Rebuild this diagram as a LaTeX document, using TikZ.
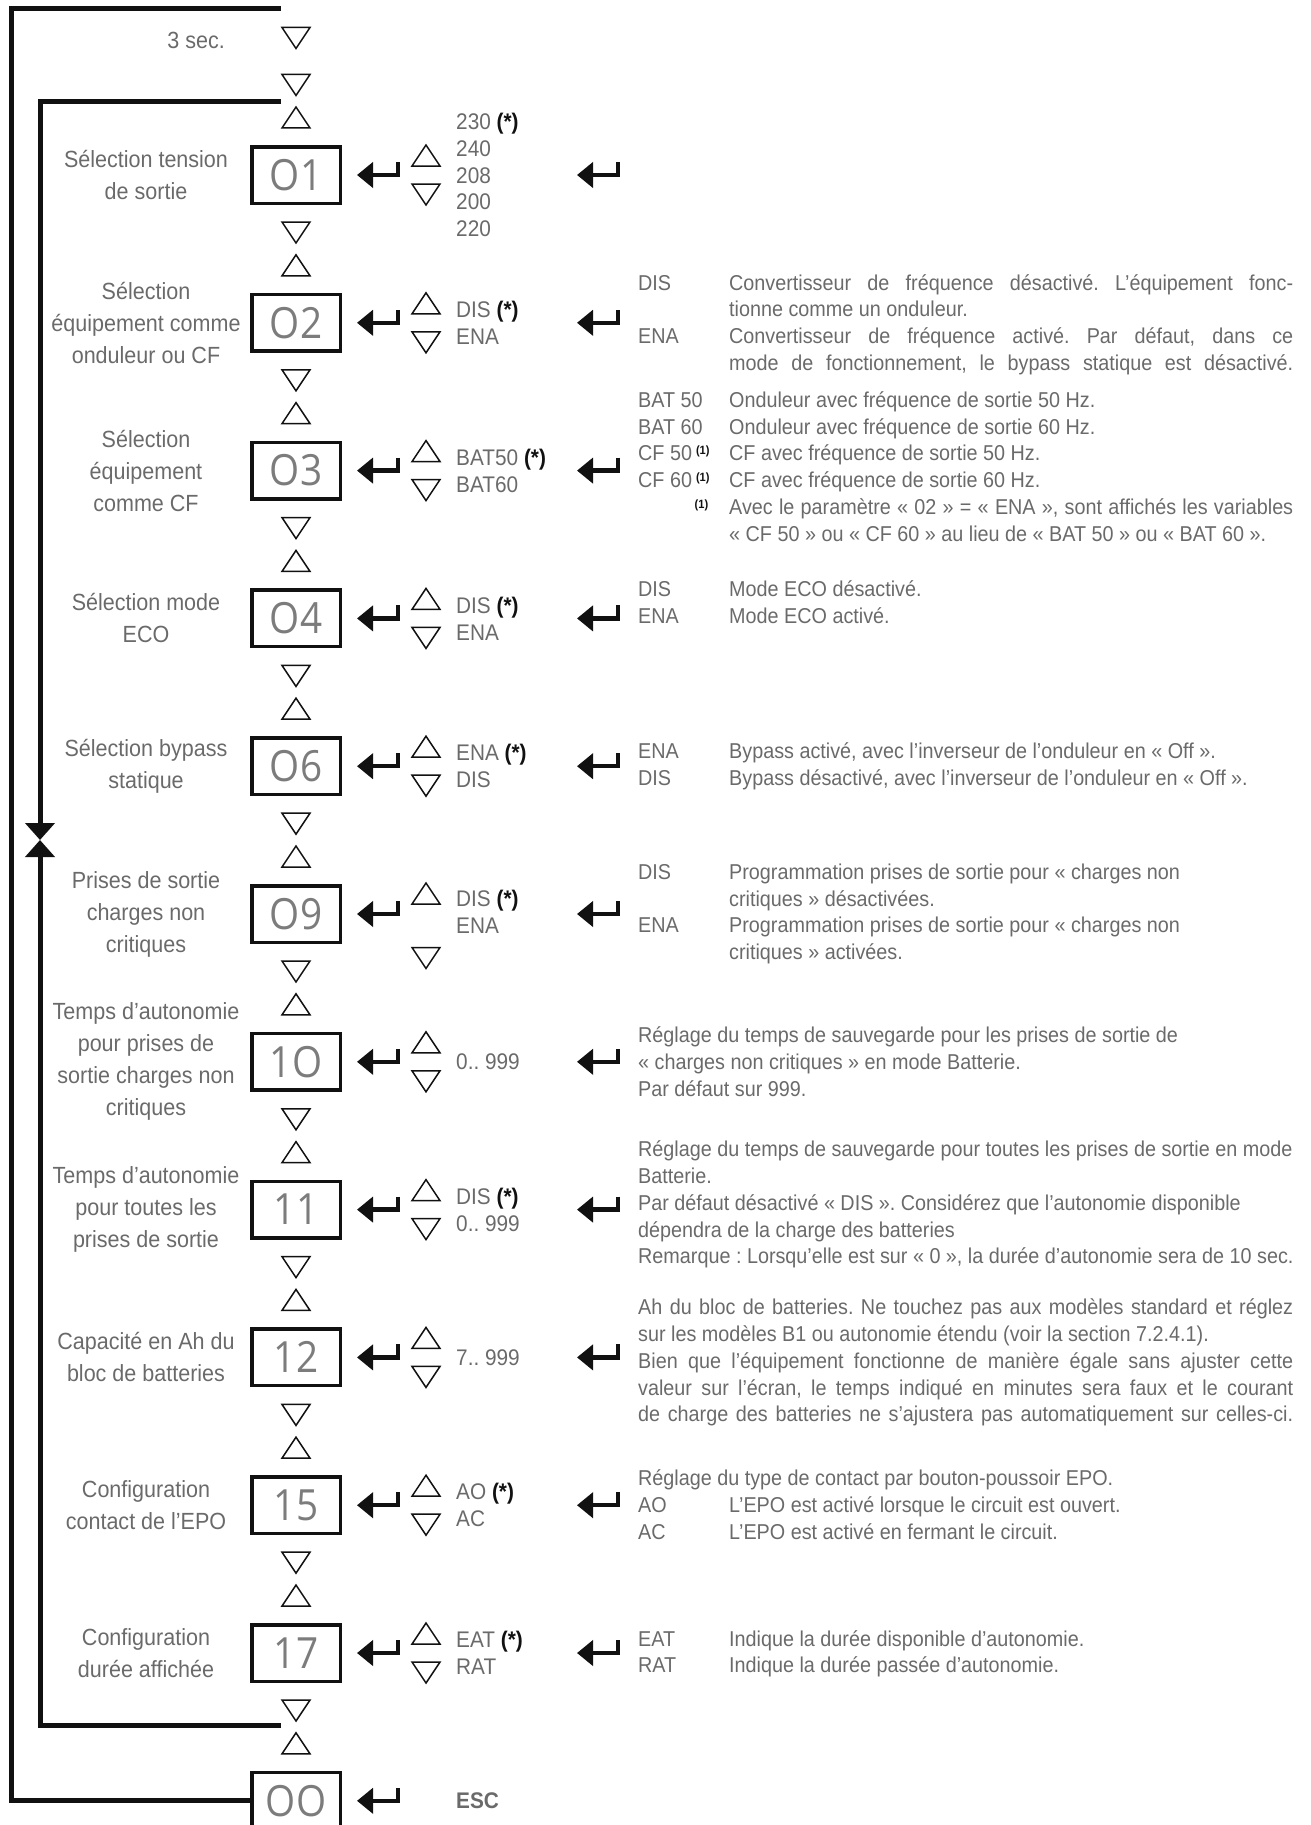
\documentclass[tikz,border=0pt]{standalone}
\usepackage{fontspec}
\setmainfont{Liberation Sans}[FakeStretch=0.92]
\newfontfamily\codefont{Open Sans}[FakeStretch=0.9]
\usepackage{tikz}
\usetikzlibrary{arrows.meta}
\definecolor{Ink}{HTML}{111111}
\definecolor{TextGray}{HTML}{6A6A6A}
\definecolor{CodeGray}{HTML}{7C7C7C}
\frenchspacing
\tolerance=9999
\hbadness=10000
\hyphenpenalty=10000
\newcommand{\labelsize}{\fontsize{23.4}{32}\selectfont}
\newcommand{\valuesize}{\fontsize{22.6}{26.9}\selectfont}
\newcommand{\descsize}{\fontsize{21.5}{26.7}\selectfont}
\newcommand{\dflt}{\textbf{\textcolor{Ink}{(*)}}}
\newcommand{\fnmark}{\raisebox{6pt}{\fontsize{12}{12}\selectfont\bfseries\textcolor{Ink}{(1)}}}
% small outlined arrow keys and the enter key
\newcommand{\navup}[2]{\draw[navtri] (#1-14,#2+10.5) -- (#1+14,#2+10.5) -- (#1,#2-10.5) -- cycle;}
\newcommand{\navdown}[2]{\draw[navtri] (#1-14,#2-10.5) -- (#1+14,#2-10.5) -- (#1,#2+10.5) -- cycle;}
\newcommand{\enterkey}[2]{\draw[enterline] (#1+41,#2-13) -- (#1+41,#2) -- (#1,#2);}
\tikzset{
  frameline/.style={draw=Ink,line width=5pt,line join=miter},
  looptip/.style={-{Triangle[length=17pt,width=29pt]}},
  codebox/.style={draw=Ink,line width=3.5pt,minimum width=88.5pt,minimum height=56.5pt,
    inner sep=0pt,font=\codefont\fontsize{43}{43}\selectfont,text=CodeGray},
  sidelabel/.style={align=center,inner sep=0pt,font=\labelsize,text=TextGray},
  valuelist/.style={anchor=west,align=left,inner sep=0pt,font=\valuesize,text=TextGray},
  descblock/.style={anchor=west,inner sep=0pt,font=\descsize,text=TextGray},
  navtri/.style={draw=Ink,line width=1.5pt,line join=miter,fill=white},
  enterline/.style={draw=Ink,line width=4.5pt,line join=miter,-{Triangle[length=16pt,width=25pt]}}
}

\begin{document}
\begin{tikzpicture}[x=1pt,y=-1pt]
\useasboundingbox (0,0) rectangle (1311,1825);

% parameter boxes
\node[codebox] (box01) at (296,175) {O1};
\node[codebox] (box02) at (296,322.8) {O2};
\node[codebox] (box03) at (296,470.6) {O3};
\node[codebox] (box04) at (296,618.4) {O4};
\node[codebox] (box06) at (296,766.2) {O6};
\node[codebox] (box09) at (296,914) {O9};
\node[codebox] (box10) at (296,1061.8) {1O};
\node[codebox] (box11) at (296,1209.6) {11};
\node[codebox] (box12) at (296,1357.4) {12};
\node[codebox] (box15) at (296,1505.2) {15};
\node[codebox] (box17) at (296,1653) {17};
\node[codebox] (box00) at (296,1800.8) {OO};

% labels on the left
\node[sidelabel,anchor=east] (delay) at (225,40) {3 sec.};
\node[sidelabel] (lblone) at (146,175) {Sélection tension\\de sortie};
\node[sidelabel] (lbltwo) at (146,322.8) {Sélection\\équipement comme\\onduleur ou CF};
\node[sidelabel] (lblthree) at (146,470.6) {Sélection\\équipement\\comme CF};
\node[sidelabel] (lblfour) at (146,618.4) {Sélection mode\\ECO};
\node[sidelabel] (lblsix) at (146,766.2) {Sélection bypass\\statique};
\node[sidelabel] (lblnine) at (146,914) {Prises de sortie\\charges non\\critiques};
\node[sidelabel] (lblten) at (146,1061.8) {Temps d'autonomie\\pour prises de\\sortie charges non\\critiques};
\node[sidelabel] (lbleleven) at (146,1209.6) {Temps d'autonomie\\pour toutes les\\prises de sortie};
\node[sidelabel] (lbltwelve) at (146,1357.4) {Capacité en Ah du\\bloc de batteries};
\node[sidelabel] (lblfifteen) at (146,1505.2) {Configuration\\contact de l'EPO};
\node[sidelabel] (lblseventeen) at (146,1653) {Configuration\\durée affichée};

% selectable values
\node[valuelist] (valone) at (456,175) {230 \dflt\\240\\208\\200\\220};
\node[valuelist] (valtwo) at (456,322.8) {DIS \dflt\\ENA};
\node[valuelist] (valthree) at (456,470.6) {BAT50 \dflt\\BAT60};
\node[valuelist] (valfour) at (456,618.4) {DIS \dflt\\ENA};
\node[valuelist] (valsix) at (456,766.2) {ENA \dflt\\DIS};
\node[valuelist] (valnine) at (456,912) {DIS \dflt\\ENA};
\node[valuelist] (valten) at (456,1061.8) {0.. 999};
\node[valuelist] (valeleven) at (456,1209.6) {DIS \dflt\\0.. 999};
\node[valuelist] (valtwelve) at (456,1357.4) {7.. 999};
\node[valuelist] (valfifteen) at (456,1505.2) {AO \dflt\\AC};
\node[valuelist] (valseventeen) at (456,1653) {EAT \dflt\\RAT};
\node[valuelist,font=\valuesize\bfseries] (valesc) at (456,1800.8) {ESC};

% descriptions
\node[descblock] (descfreq) at (638,325) {%
  \begin{tabular}{@{}p{91pt}@{}p{564pt}@{}}
  DIS & Convertisseur de fréquence désactivé. L'équipement fonc-\linebreak tionne comme un onduleur.\\
  ENA & \parfillskip=0pt Convertisseur de fréquence activé. Par défaut, dans ce\linebreak mode de fonctionnement, le bypass statique est désactivé.
  \end{tabular}};
\node[descblock] (descbat) at (638,469) {%
  \begin{tabular}{@{}p{91pt}@{}p{564pt}@{}}
  BAT 50 & Onduleur avec fréquence de sortie 50 Hz.\\
  BAT 60 & Onduleur avec fréquence de sortie 60 Hz.\\
  CF 50\hspace{4pt}\fnmark & CF avec fréquence de sortie 50 Hz.\\
  CF 60\hspace{4pt}\fnmark & CF avec fréquence de sortie 60 Hz.\\
  \mbox{}\hfill\fnmark\hspace*{21pt} & Avec le paramètre « 02 » = « ENA », sont affichés les variables\linebreak « CF 50 » ou « CF 60 » au lieu de « BAT 50 » ou « BAT 60 ».
  \end{tabular}};
\node[descblock] (desceco) at (638,605) {%
  \begin{tabular}{@{}p{91pt}@{}l@{}}
  DIS & Mode ECO désactivé.\\
  ENA & Mode ECO activé.
  \end{tabular}};
\node[descblock] (descbypass) at (638,767) {%
  \begin{tabular}{@{}p{91pt}@{}l@{}}
  ENA & Bypass activé, avec l'inverseur de l'onduleur en « Off ».\\
  DIS & Bypass désactivé, avec l'inverseur de l'onduleur en « Off ».
  \end{tabular}};
\node[descblock] (descoutlet) at (638,914) {%
  \begin{tabular}{@{}p{91pt}@{}l@{}}
  DIS & Programmation prises de sortie pour « charges non\\
      & critiques » désactivées.\\
  ENA & Programmation prises de sortie pour « charges non\\
      & critiques » activées.
  \end{tabular}};
\node[descblock] (descbackup) at (638,1064) {%
  \begin{tabular}{@{}l@{}}
  Réglage du temps de sauvegarde pour les prises de sortie de\\
  « charges non critiques » en mode Batterie.\\
  Par défaut sur 999.
  \end{tabular}};
\node[descblock] (descalltime) at (638,1205) {%
  \begin{tabular}{@{}l@{}}
  Réglage du temps de sauvegarde pour toutes les prises de sortie en mode\\
  Batterie.\\
  Par défaut désactivé « DIS ». Considérez que l'autonomie disponible\\
  dépendra de la charge des batteries\\
  Remarque : Lorsqu'elle est sur « 0 », la durée d'autonomie sera de 10 sec.
  \end{tabular}};
\node[descblock] (descah) at (638,1363) {%
  \begin{tabular}{@{}p{655pt}@{}}
  \parfillskip=0pt Ah du bloc de batteries. Ne touchez pas aux modèles standard et réglez\linebreak
  sur les modèles B1 ou autonomie étendu (voir la section 7.2.4.1).\newline
  Bien que l'équipement fonctionne de manière égale sans ajuster cette\linebreak
  valeur sur l’écran, le temps indiqué en minutes sera faux et le courant\linebreak
  de charge des batteries ne s'ajustera pas automatiquement sur celles-ci.
  \end{tabular}};
\node[descblock] (descepo) at (638,1507) {%
  \begin{tabular}{@{}p{91pt}@{}l@{}}
  \multicolumn{2}{@{}l@{}}{Réglage du type de contact par bouton-poussoir EPO.}\\
  AO & L'EPO est activé lorsque le circuit est ouvert.\\
  AC & L'EPO est activé en fermant le circuit.
  \end{tabular}};
\node[descblock] (desctime) at (638,1654) {%
  \begin{tabular}{@{}p{91pt}@{}l@{}}
  EAT & Indique la durée disponible d'autonomie.\\
  RAT & Indique la durée passée d'autonomie.
  \end{tabular}};

% the two loops
\coordinate (outtop) at (281,9);
\coordinate (outleft) at (11.5,0);
\coordinate (innertop) at (281,102);
\coordinate (innerbot) at (281,1725);
\coordinate (innerleft) at (40,0);
\coordinate (loopmeet) at (40,840);
\draw[frameline] (outtop) -- (outtop -| outleft) -- (outleft |- box00.west) -- (box00.west);
\draw[frameline,looptip] (innertop) -- (innertop -| innerleft) -- (loopmeet);
\draw[frameline,looptip] (innerbot) -- (innerbot -| innerleft) -- (loopmeet);

% arrow keys between the boxes
\navdown{296}{38}
\navdown{296}{85}
\foreach \c in {175,322.8,470.6,618.4,766.2,914,1061.8,1209.6,1357.4,1505.2,1653}{
  \navup{296}{\c-57.5}
  \navdown{296}{\c+57.5}
  \enterkey{357}{\c}
  \enterkey{577}{\c}
}
\navup{296}{1743.3}
\enterkey{357}{1800.8}

% arrow keys beside the values
\foreach \c in {175,322.8,470.6,618.4,766.2,1061.8,1209.6,1357.4,1505.2,1653}{
  \navup{426}{\c-19.5}
  \navdown{426}{\c+19.5}
}
\navup{426}{893.5}
\navdown{426}{958}
\end{tikzpicture}
\end{document}
